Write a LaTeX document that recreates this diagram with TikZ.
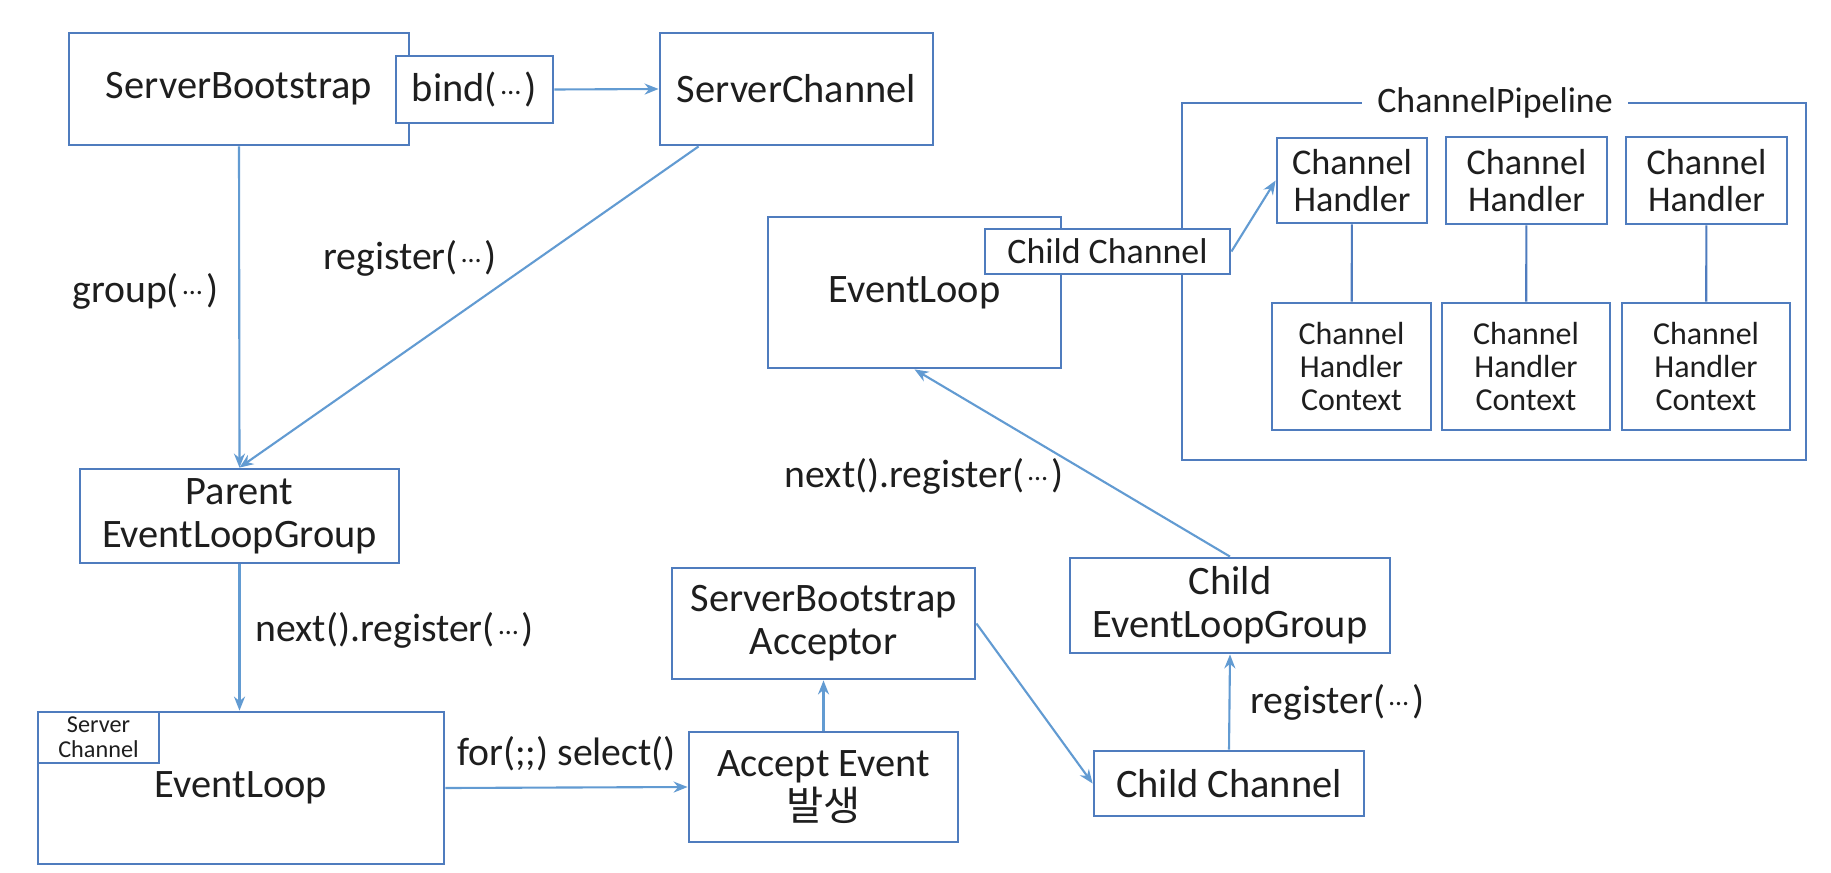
\documentclass[tikz,border=0pt]{standalone}
\usepackage{fontspec}
\usepackage{graphicx}
\setmainfont{Carlito}
\newfontfamily\krfont{Noto Sans CJK KR}
\usepackage{xcolor}
\usetikzlibrary{positioning, arrows.meta}
\definecolor{boxblue}{RGB}{79,124,190}
\definecolor{arrowblue}{RGB}{98,155,210}
\definecolor{inkgray}{RGB}{30,30,30}
\newcommand{\mdots}{\hspace{0.1em}\raisebox{0.18em}{\scalebox{0.7}{…}}\hspace{0.1em}}

\begin{document}
\begin{tikzpicture}[
  box/.style={draw=boxblue, line width=0.8pt, fill=white, align=center,
              inner sep=0pt, text=inkgray, font=\fontsize{11.5}{12.3}\selectfont},
  hbox/.style={box, font=\fontsize{10.3}{10.5}\selectfont},
  cbox/.style={box, font=\fontsize{9.1}{9.5}\selectfont},
  tinybox/.style={box, font=\fontsize{6.9}{7.1}\selectfont},
  arr/.style={-{Stealth[length=1.4mm, width=1.1mm]}, draw=arrowblue, line width=0.6pt},
  link/.style={draw=boxblue, line width=0.6pt},
  lbl/.style={font=\fontsize{11.3}{12.3}\selectfont, text=inkgray, inner sep=0pt}
]
  \useasboundingbox[fill=white] (0,0) rectangle (18.31,-8.72);

  % Bootstrap side
  \node[box, minimum width=3.40cm, minimum height=1.12cm] (sbs)  at (2.39, -0.89)  {ServerBootstrap};
  \node[box, minimum width=1.57cm, minimum height=0.67cm] (bind) at (4.745, -0.895) {bind(\mdots)};
  \node[box, minimum width=2.73cm, minimum height=1.12cm] (sch)  at (7.965, -0.89) {ServerChannel};
  \node[box, minimum width=3.19cm, minimum height=0.94cm] (parent) at (2.395, -5.16) {Parent\\EventLoopGroup};

  % Parent event loop
  \node[box, minimum width=4.06cm, minimum height=1.52cm] (el1) at (2.41, -7.88) {EventLoop};
  \node[tinybox, minimum width=1.21cm, minimum height=0.51cm] (sc) at (0.985, -7.375) {Server\\Channel};
  \node[box, minimum width=2.69cm, minimum height=1.10cm] (ae)  at (8.235, -7.87)  {Accept Event\\{\krfont 발생}};
  \node[box, minimum width=3.03cm, minimum height=1.11cm] (sba) at (8.235, -6.235) {ServerBootstrap\\Acceptor};

  % Child side
  \node[box, minimum width=3.20cm, minimum height=0.95cm] (celg) at (12.30, -6.055) {Child\\EventLoopGroup};
  \node[box, minimum width=2.70cm, minimum height=0.65cm] (cch)  at (12.29, -7.835) {Child Channel};
  \node[box, minimum width=2.93cm, minimum height=1.51cm] (el2)  at (9.145, -2.925) {EventLoop};

  % Pipeline
  \draw[link, line width=0.8pt] (11.82, -1.03) rectangle (18.06, -4.60);
  \node[lbl, font=\fontsize{10.2}{11}\selectfont, fill=white, inner xsep=1.5mm, inner ysep=1mm] (title) at (14.95, -1.03) {ChannelPipeline};
  \node[hbox, minimum width=1.50cm, minimum height=0.85cm] (ch1) at (13.52, -1.805)  {Channel\\Handler};
  \node[hbox, minimum width=1.61cm, minimum height=0.87cm] (ch2) at (15.265, -1.805) {Channel\\Handler};
  \node[hbox, minimum width=1.61cm, minimum height=0.87cm] (ch3) at (17.065, -1.805) {Channel\\Handler};
  \node[cbox, minimum width=1.59cm, minimum height=1.27cm] (cx1) at (13.515, -3.665) {Channel\\Handler\\Context};
  \node[cbox, minimum width=1.68cm, minimum height=1.27cm] (cx2) at (15.26, -3.665)  {Channel\\Handler\\Context};
  \node[cbox, minimum width=1.68cm, minimum height=1.27cm] (cx3) at (17.06, -3.665)  {Channel\\Handler\\Context};
  \node[box, font=\fontsize{10.2}{11}\selectfont, minimum width=2.45cm, minimum height=0.45cm] (cc) at (11.075, -2.515) {Child Channel};

  \draw[link] (ch1) -- (cx1);
  \draw[link] (ch2) -- (cx2);
  \draw[link] (ch3) -- (cx3);

  % Arrows
  \draw[arr] (bind.east) -- (sch.west);
  \draw[arr] (sbs.south) -- (parent.north)
    node[lbl, pos=0.45, left=2mm] {group(\mdots)};
  \draw[arr] ([xshift=4mm]sch.south west) -- (parent.north)
    node[lbl, pos=0.35, left=4mm] {register(\mdots)};
  \draw[arr] (parent.south) -- (parent.south |- el1.north)
    node[lbl, pos=0.45, right=1.5mm] {next().register(\mdots)};
  \draw[arr] (el1.east) -- (ae.west)
    node[lbl, pos=0.5, above=1.5mm] {for(;;) select()};
  \draw[arr] (ae.north) -- (sba.south);
  \draw[arr] (sba.east) -- (cch.west);
  \draw[arr] (cch.north) -- (celg.south)
    node[lbl, pos=0.5, right=2mm] {register(\mdots)};
  \draw[arr] (celg.north) -- (el2.south)
    node[lbl, pos=0.43, left=3mm] {next().register(\mdots)};
  \draw[arr] (cc.east) -- (ch1.west);

\end{tikzpicture}
\end{document}
